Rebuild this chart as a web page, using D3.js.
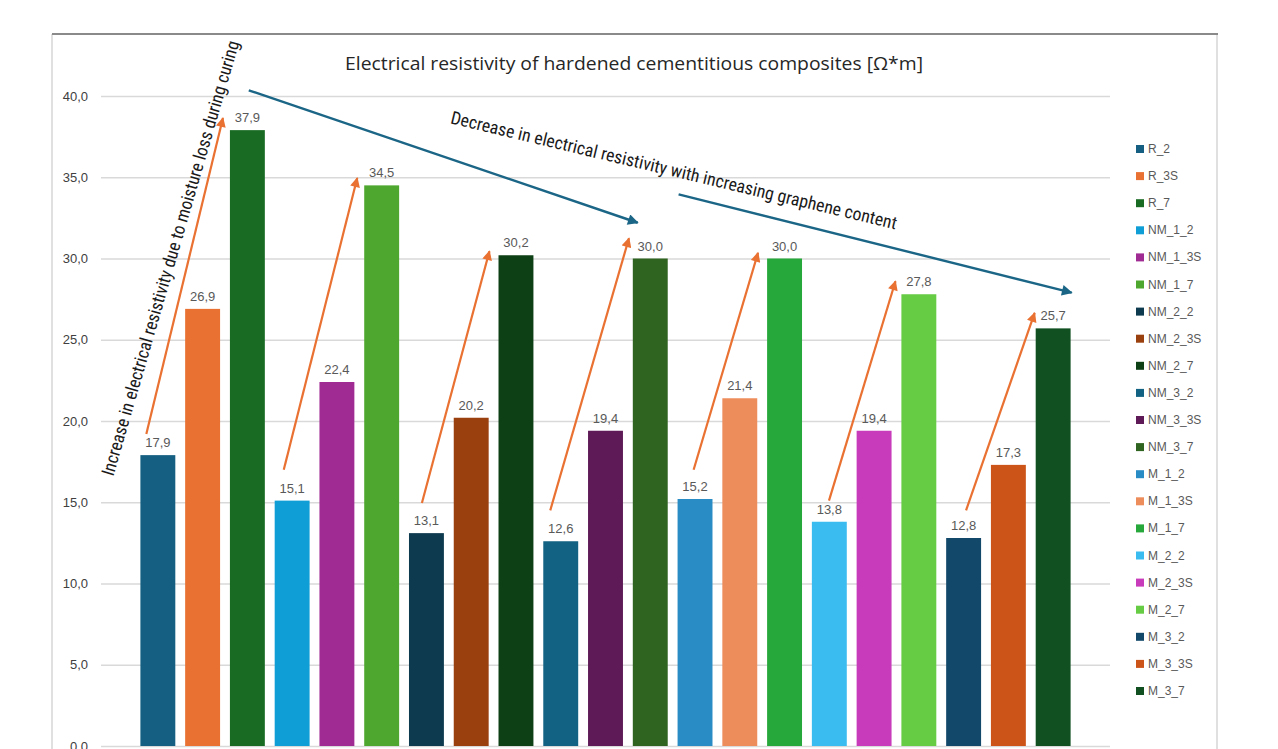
<!DOCTYPE html>
<html>
<head>
<meta charset="utf-8">
<script src="https://cdn.jsdelivr.net/npm/d3@7"></script>
<style>
  html, body { margin: 0; padding: 0; background: #fff; overflow: hidden; }
  svg { display: block; }
</style>
</head>
<body>
<div id="chart"></div>
<script>
// series names, one bar each
const categories = [
  'R_2', 'R_3S', 'R_7',
  'NM_1_2', 'NM_1_3S', 'NM_1_7',
  'NM_2_2', 'NM_2_3S', 'NM_2_7',
  'NM_3_2', 'NM_3_3S', 'NM_3_7',
  'M_1_2', 'M_1_3S', 'M_1_7',
  'M_2_2', 'M_2_3S', 'M_2_7',
  'M_3_2', 'M_3_3S', 'M_3_7',
];
const values = [
  17.9, 26.9, 37.9,
  15.1, 22.4, 34.5,
  13.1, 20.2, 30.2,
  12.6, 19.4, 30.0,
  15.2, 21.4, 30.0,
  13.8, 19.4, 27.8,
  12.8, 17.3, 25.7,
];
const colors = [
  '#156082', '#e97132', '#196b24',
  '#0f9ed5', '#a02b93', '#4ea72e',
  '#0d3a4f', '#9a400f', '#0e4016',
  '#126383', '#5e1a56', '#2f6420',
  '#2a8cc4', '#ee8d5c', '#27a83a',
  '#3bbcf0', '#c83bbb', '#66cc44',
  '#12496a', '#cc5418', '#115020',
];
const yTicks = [0, 5, 10, 15, 20, 25, 30, 35, 40];

const title = 'Electrical resistivity of hardened cementitious composites [Ω*m]';
const noteUp = 'Increase in electrical resistivity due to moisture loss during curing';
const noteDown = 'Decrease in electrical resistivity with increasing graphene content';

// orange arrows: from the "_2" bar to the "_7" bar of each mix (value units, offset as share of bar width)
const upFrom = ['R_2', 'NM_1_2', 'NM_2_2', 'NM_3_2', 'M_1_2', 'M_2_2', 'M_3_2'];
const upFromOffset = [0.17, 0.26, 0.37, 0.2, 0.46, 0.49, 0.57];
const upFromValue = [19.2, 17.0, 14.95, 14.5, 17.0, 15.1, 14.5];
const upTo = ['R_7', 'NM_1_7', 'NM_2_7', 'NM_3_7', 'M_1_7', 'M_2_7', 'M_3_7'];
const upToOffset = [-0.2, -0.2, -0.26, -0.11, -0.26, -0.17, -0.03];
const upToValue = [38.65, 34.95, 30.45, 31.25, 30.35, 28.6, 26.65];

// blue arrows across the mixes
const downFrom = ['R_7', 'M_1_2'];
const downFromOffset = [0.54, 0.03];
const downFromValue = [40.35, 33.95];
const downTo = ['NM_3_7', 'M_3_7'];
const downToOffset = [0.14, 1.03];
const downToValue = [32.2, 27.9];

const width = 1278;
const height = 749;
const plot = { left: 101, right: 1110, top: 96, bottom: 746 };

const fmt = v => d3.format('.1f')(v).replace('.', ',');

const svg = d3.select('#chart')
  .append('svg')
  .attr('width', width)
  .attr('height', height);

const defs = svg.append('defs');
[['headOrange', '#e97132'], ['headBlue', '#1b6586']].forEach(([id, c]) => {
  defs.append('marker')
    .attr('id', id)
    .attr('viewBox', '0 0 10 10')
    .attr('refX', 9)
    .attr('refY', 5)
    .attr('markerWidth', 5)
    .attr('markerHeight', 4.5)
    .attr('markerUnits', 'strokeWidth')
    .attr('orient', 'auto')
    .append('path')
    .attr('d', 'M0,0 L10,5 L0,10 z')
    .attr('fill', c);
});

// chart frame
svg.append('line')
  .attr('x1', 52).attr('x2', 52).attr('y1', 34).attr('y2', height)
  .attr('stroke', '#d6d6d6').attr('stroke-width', 1.5);
svg.append('line')
  .attr('x1', 1217).attr('x2', 1217).attr('y1', 34).attr('y2', height)
  .attr('stroke', '#d6d6d6').attr('stroke-width', 1.5);
svg.append('line')
  .attr('x1', 52).attr('x2', 1218).attr('y1', 34).attr('y2', 34)
  .attr('stroke', '#8a8a8a').attr('stroke-width', 2);

const x = d3.scaleBand()
  .domain(categories)
  .range([plot.left, plot.right])
  .paddingInner(0.22)
  .paddingOuter(0.88);

const y = d3.scaleLinear()
  .domain([0, 40])
  .range([plot.bottom, plot.top]);

const yG = svg.append('g')
  .attr('transform', `translate(${plot.left},0)`)
  .call(d3.axisLeft(y)
    .tickValues(yTicks)
    .tickSize(-(plot.right - plot.left))
    .tickPadding(13)
    .tickFormat(fmt));

yG.select('.domain').remove();
yG.selectAll('line').style('stroke', '#d9d9d9').style('stroke-width', 1.5);
yG.selectAll('text')
  .style('font-family', '"Liberation Sans", Arial, sans-serif')
  .style('font-size', '13px')
  .attr('fill', '#404040');

// bars
svg.selectAll('rect.bar')
  .data(categories)
  .enter()
  .append('rect')
  .attr('class', 'bar')
  .attr('x', d => x(d))
  .attr('width', x.bandwidth())
  .attr('y', (d, i) => y(values[i]))
  .attr('height', (d, i) => plot.bottom - y(values[i]))
  .attr('fill', (d, i) => colors[i]);

// data labels
svg.selectAll('text.val')
  .data(categories)
  .enter()
  .append('text')
  .attr('class', 'val')
  .attr('x', d => x(d) + x.bandwidth() / 2)
  .attr('y', (d, i) => y(values[i]) - 8)
  .attr('text-anchor', 'middle')
  .style('font-family', '"Liberation Sans", Arial, sans-serif')
  .style('font-size', '13px')
  .attr('fill', '#595959')
  .text((d, i) => fmt(values[i]));

// title
svg.append('text')
  .attr('x', 634)
  .attr('y', 70)
  .attr('text-anchor', 'middle')
  .attr('textLength', 578)
  .attr('lengthAdjust', 'spacingAndGlyphs')
  .style('font-family', '"Open Sans", "Noto Sans", sans-serif')
  .style('font-size', '19px')
  .attr('fill', '#262626')
  .text(title);

// arrows
const px = (cat, off) => x(cat) + off * x.bandwidth();

svg.selectAll('line.up')
  .data(upFrom)
  .enter()
  .append('line')
  .attr('class', 'up')
  .attr('x1', (d, i) => px(d, upFromOffset[i]))
  .attr('y1', (d, i) => y(upFromValue[i]))
  .attr('x2', (d, i) => px(upTo[i], upToOffset[i]))
  .attr('y2', (d, i) => y(upToValue[i]))
  .attr('stroke', '#e97132')
  .attr('stroke-width', 2.2)
  .attr('marker-end', 'url(#headOrange)');

svg.selectAll('line.down')
  .data(downFrom)
  .enter()
  .append('line')
  .attr('class', 'down')
  .attr('x1', (d, i) => px(d, downFromOffset[i]))
  .attr('y1', (d, i) => y(downFromValue[i]))
  .attr('x2', (d, i) => px(downTo[i], downToOffset[i]))
  .attr('y2', (d, i) => y(downToValue[i]))
  .attr('stroke', '#1b6586')
  .attr('stroke-width', 2.4)
  .attr('marker-end', 'url(#headBlue)');

// annotation texts
const noteFont = '"Liberation Sans Narrow", "Roboto Condensed", "Open Sans", sans-serif';

svg.append('text')
  .attr('transform', 'translate(170,258) rotate(-73.8)')
  .attr('text-anchor', 'middle')
  .attr('dominant-baseline', 'central')
  .attr('textLength', 452)
  .attr('lengthAdjust', 'spacingAndGlyphs')
  .style('font-family', noteFont)
  .style('font-size', '18px')
  .attr('fill', '#1a1a1a')
  .text(noteUp);

svg.append('text')
  .attr('transform', 'translate(674,170) rotate(13.4)')
  .attr('text-anchor', 'middle')
  .attr('dominant-baseline', 'central')
  .attr('textLength', 458)
  .attr('lengthAdjust', 'spacingAndGlyphs')
  .style('font-family', noteFont)
  .style('font-size', '18px')
  .attr('fill', '#1a1a1a')
  .text(noteDown);

// legend
const legendY = d3.scalePoint()
  .domain(categories)
  .range([149, 691]);

const legend = svg.append('g')
  .selectAll('g')
  .data(categories)
  .enter()
  .append('g')
  .attr('transform', d => `translate(1136,${legendY(d)})`);

legend.append('rect')
  .attr('x', 0)
  .attr('y', -4)
  .attr('width', 8)
  .attr('height', 8)
  .attr('fill', (d, i) => colors[i]);

legend.append('text')
  .attr('x', 12)
  .attr('y', 0)
  .attr('dominant-baseline', 'central')
  .style('font-family', '"Liberation Sans", Arial, sans-serif')
  .style('font-size', '12px')
  .attr('fill', '#595959')
  .text(d => d);
</script>
</body>
</html>
